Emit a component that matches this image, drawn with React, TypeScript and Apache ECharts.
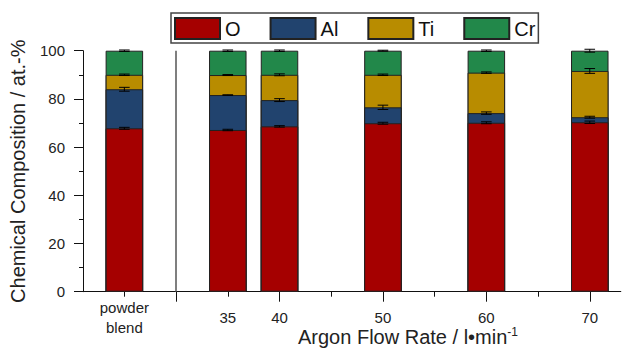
import React, { useEffect, useRef } from "react";
import * as echarts from "echarts";

const categories = ["powder\nblend", "35", "40", "50", "60", "70"];
const xPositions = [25, 35, 40, 50, 60, 70];
const oValues = [67.8, 67.1, 68.6, 69.9, 70.1, 70.3];
const alValues = [16.2, 14.5, 10.9, 6.6, 4.0, 2.1];
const tiValues = [6.0, 8.3, 10.5, 13.5, 16.8, 19.2];
const crValues = [10.0, 10.1, 10.0, 10.0, 9.1, 8.4];
const oErr = [0.4, 0.3, 0.3, 0.4, 0.4, 0.5];
const alErr = [0.8, 0.1, 0.6, 0.9, 0.5, 0.4];
const tiErr = [0.3, 0.2, 0.4, 0.3, 0.3, 1.0];
const crErr = [0.3, 0.3, 0.3, 0.2, 0.3, 0.6];
const majorTicks = [30, 40, 50, 60, 70];
const minorTicks = [25, 35, 45, 55, 65];
const yTicks = [0, 20, 40, 60, 80, 100];

const FONT = "'Liberation Sans', Arial, sans-serif";

export default function App() {
  const ref = useRef<HTMLDivElement>(null);
  useEffect(() => {
    if (!ref.current) return;
    const chart = echarts.init(ref.current, undefined, { renderer: "svg" });
    const elements = [
      { name: "O", values: oValues, err: oErr, color: "#A50000" },
      { name: "Al", values: alValues, err: alErr, color: "#21436E" },
      { name: "Ti", values: tiValues, err: tiErr, color: "#B88C00" },
      { name: "Cr", values: crValues, err: crErr, color: "#22884A" },
    ];
    const cum = xPositions.map(() => 0);
    const barSeries: any[] = [];
    const errSeries: any[] = [];
    elements.forEach((el, k) => {
      // cumulative top of this segment; bars drawn from 0, lower segments drawn on top
      const tops = xPositions.map((x, i) => {
        cum[i] += el.values[i];
        return [x, cum[i], el.err[i]];
      });
      barSeries.unshift({
        name: el.name,
        type: "bar",
        barWidth: 37.5,
        barGap: "-100%",
        xAxisIndex: 0,
        yAxisIndex: 0,
        z: 6 - k,
        itemStyle: { color: el.color, borderColor: "#222", borderWidth: 1 },
        data: tops.map((t) => [t[0], t[1]]),
        markLine:
          k === 0
            ? {
                silent: true,
                symbol: "none",
                label: { show: false },
                lineStyle: { color: "#555", width: 1.5, type: "solid" },
                data: [{ xAxis: 30 }],
              }
            : undefined,
      });
      errSeries.push({
        name: el.name + "-err",
        type: "custom",
        xAxisIndex: 0,
        yAxisIndex: 0,
        z: 10,
        encode: { x: 0, y: 1 },
        data: tops,
        renderItem: (params: any, api: any) => {
          const x = api.value(0);
          const y = api.value(1);
          const e = api.value(2);
          const p = api.coord([x, y]);
          const hi = api.coord([x, y + e]);
          const lo = api.coord([x, y - e]);
          const w = 5.3;
          const st = { stroke: "#000", lineWidth: 1 };
          return {
            type: "group",
            children: [
              { type: "line", shape: { x1: p[0], y1: hi[1], x2: p[0], y2: lo[1] }, style: st },
              { type: "line", shape: { x1: p[0] - w, y1: hi[1], x2: p[0] + w, y2: hi[1] }, style: st },
              { type: "line", shape: { x1: p[0] - w, y1: lo[1], x2: p[0] + w, y2: lo[1] }, style: st },
            ],
          };
        },
      });
    });

    const option: any = {
      animation: false,
      textStyle: { fontFamily: FONT },
      legend: {
        data: ["O", "Al", "Ti", "Cr"],
        left: 171,
        top: 13,
        itemWidth: 45,
        itemHeight: 21,
        itemGap: 29,
        icon: "rect",
        padding: [4, 3, 3, 3],
        borderColor: "#444",
        borderWidth: 1.5,
        textStyle: { fontSize: 20, color: "#111", fontFamily: FONT },
      },
      grid: { left: 80.5, right: 5.2, top: 50.7, bottom: 57.3, containLabel: false },
      xAxis: [
        {
          type: "value",
          position: "bottom",
          min: 21,
          max: 73,
          splitLine: { show: false },
          axisLine: { show: true, lineStyle: { color: "#111", width: 1 } },
          axisTick: { show: true, customValues: majorTicks, length: 10, lineStyle: { color: "#111", width: 1 } },
          axisLabel: {
            customValues: xPositions,
            formatter: (v: number) => categories[xPositions.indexOf(v)] ?? "",
            fontSize: 15,
            color: "#222",
            lineHeight: 20,
            verticalAlign: "middle",
            margin: 26,
            fontFamily: FONT,
          },
        },
        {
          type: "value",
          position: "bottom",
          min: 21,
          max: 73,
          splitLine: { show: false },
          axisLine: { show: false },
          axisTick: { show: true, customValues: minorTicks, length: 5, lineStyle: { color: "#111", width: 1 } },
          axisLabel: { show: false },
        },
      ],
      yAxis: {
        type: "value",
        min: 0,
        max: 100,
        interval: 20,
        name: "Chemical Composition / at.-%",
        nameLocation: "middle",
        nameGap: 55,
        nameTextStyle: { fontSize: 20, color: "#222", fontFamily: FONT },
        splitLine: { show: false },
        axisLine: { show: true, lineStyle: { color: "#111", width: 1 } },
        axisTick: { show: true, length: 9, lineStyle: { color: "#111", width: 1 } },
        minorTick: { show: true, splitNumber: 2, length: 4, lineStyle: { color: "#111", width: 1 } },
        axisLabel: {
          fontSize: 15,
          color: "#222",
          margin: 18,
          fontFamily: FONT,
          customValues: yTicks,
        },
      },
      graphic: [
        {
          type: "text",
          left: 298,
          top: 326,
          style: {
            text: "{a|Argon Flow Rate / l\u2022min}{s|-1}",
            rich: {
              a: { fontSize: 20, fill: "#222", fontFamily: FONT },
              s: { fontSize: 12, fill: "#222", fontFamily: FONT, verticalAlign: "top", padding: [0, 0, 10, 0] },
            },
          },
        },
      ],
      series: [...barSeries, ...errSeries],
    };
    chart.setOption(option);
    return () => chart.dispose();
  }, []);
  return (
    <div
      ref={ref}
      style={{ position: "fixed", left: 0, top: 0, width: 626, height: 349, background: "#fff" }}
    />
  );
}
